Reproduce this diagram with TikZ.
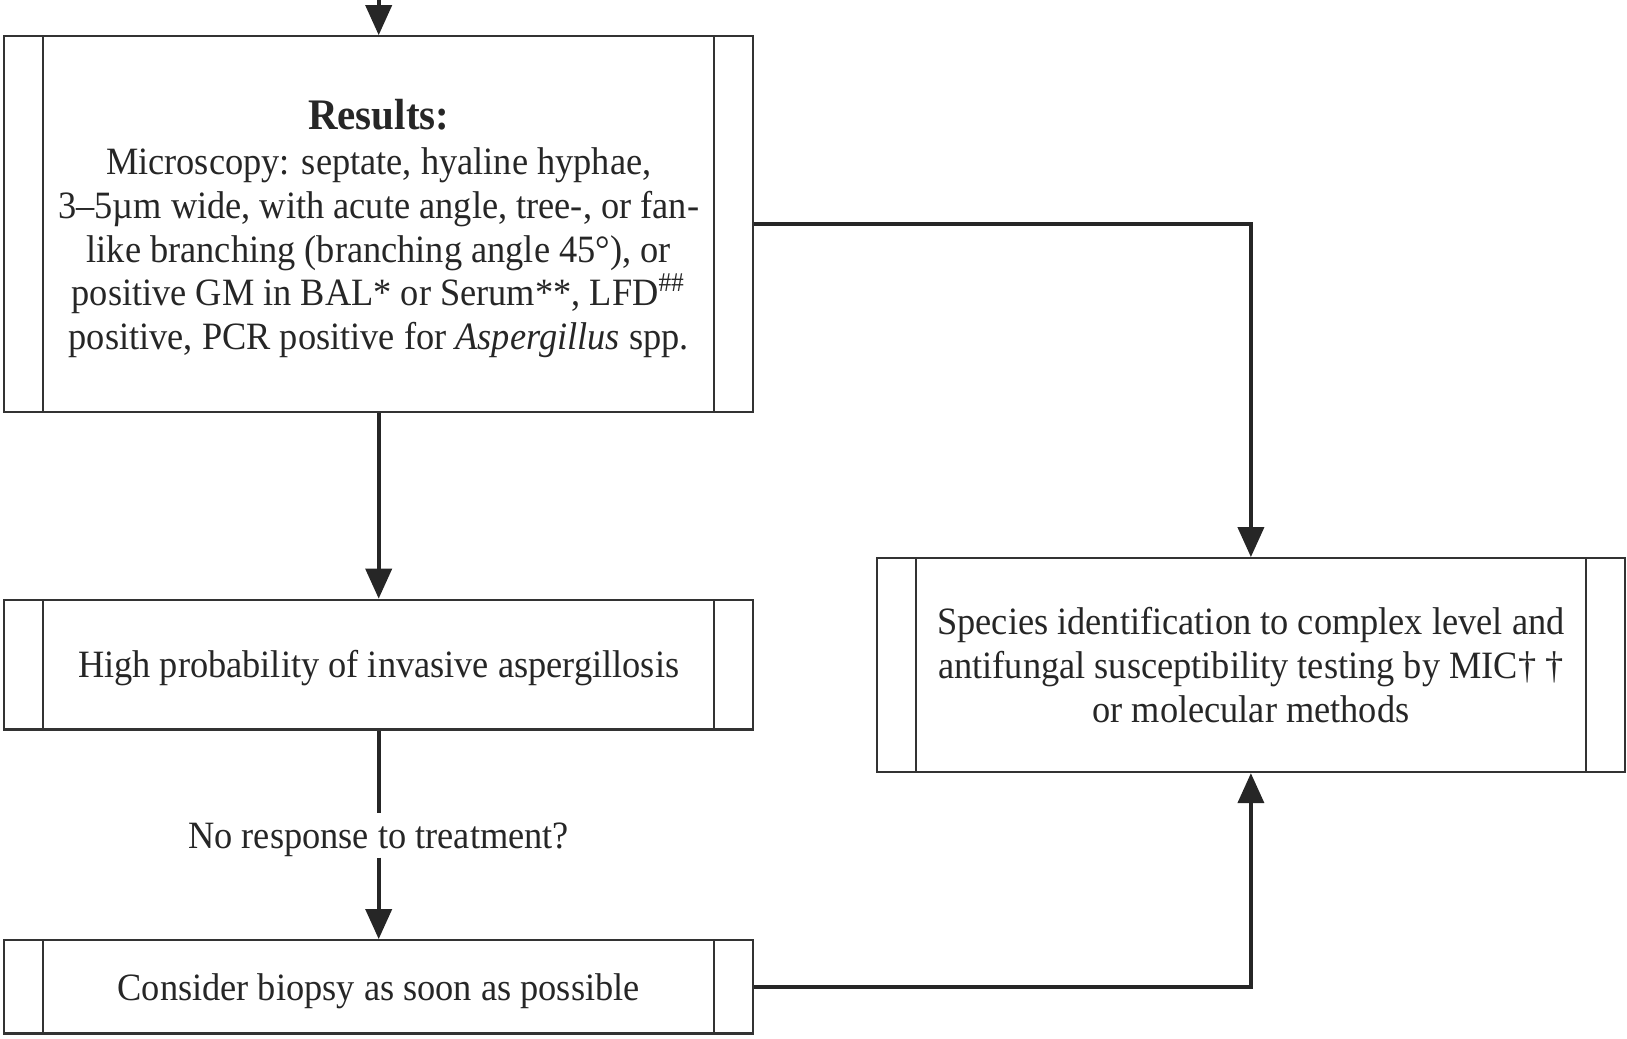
\documentclass[tikz,border=0pt]{standalone}
\usepackage{fontspec}
\setmainfont{Liberation Serif}[FakeStretch=0.94]
\usetikzlibrary{arrows.meta,positioning,calc}

\begin{document}
\begin{tikzpicture}[x=0.01cm, y=-0.01cm,
  proc/.style={draw=black!80, line width=0.6pt, align=center, inner sep=0pt,
    minimum width=7.49cm, text=black!85, font=\fontsize{11}{12.4}\selectfont,
    path picture={\draw[black!80, line width=0.6pt]
      ([xshift=0.394cm]path picture bounding box.north west) -- ([xshift=0.394cm]path picture bounding box.south west)
      ([xshift=-0.394cm]path picture bounding box.north east) -- ([xshift=-0.394cm]path picture bounding box.south east);}},
  oneline/.style={text height=9.9pt, text depth=2.4pt},
  flow/.style={-{Triangle[length=0.3cm,width=0.26cm]}, line width=1.1pt, black!85},
  lab/.style={font=\fontsize{11}{12.4}\selectfont, text=black!85, inner sep=0pt}
]
\useasboundingbox (0,0) rectangle (1627,1038);

% boxes
\coordinate (top) at (378.7,0);
\node[proc, minimum height=3.756cm] (results) at (378.7,224.1)
  {\rule{0pt}{11pt}{\fontsize{12.4}{12.4}\selectfont\textbf{Results:}}\\[0.6pt]
   Microscopy: septate, hyaline hyphae,\\
   3–5µm wide, with acute angle, tree-, or fan-\\
   like branching (branching angle 45°), or\\
   positive GM in BAL* or Serum**, LFD\textsuperscript{\#\#}\\
   positive, PCR positive for \textit{Aspergillus} spp.};
\node[proc, oneline, minimum height=1.297cm] (highprob) at (378.7,664.6)
  {High probability of invasive aspergillosis};
\node[lab, oneline] (noresp) at (378.7,835.3) {No response to treatment?};
\node[proc, oneline, minimum height=0.933cm] (biopsy) at (378.7,986.8)
  {Consider biopsy as soon as possible};
\node[proc, minimum width=7.481cm, minimum height=2.138cm] (species) at (1250.9,665.1)
  {Species identification to complex level and\\
   antifungal susceptibility testing by MIC† †\\
   or molecular methods};

% connectors
\draw[flow] (top) -- (results);
\draw[flow] (results) -- (highprob);
\draw[line width=1.1pt, black!85] (highprob) -- (noresp);
\draw[flow] (noresp) -- (biopsy);
\draw[flow] (results.east) -| (species.north);
\draw[flow] (biopsy.east) -| (species.south);
\end{tikzpicture}
\end{document}
